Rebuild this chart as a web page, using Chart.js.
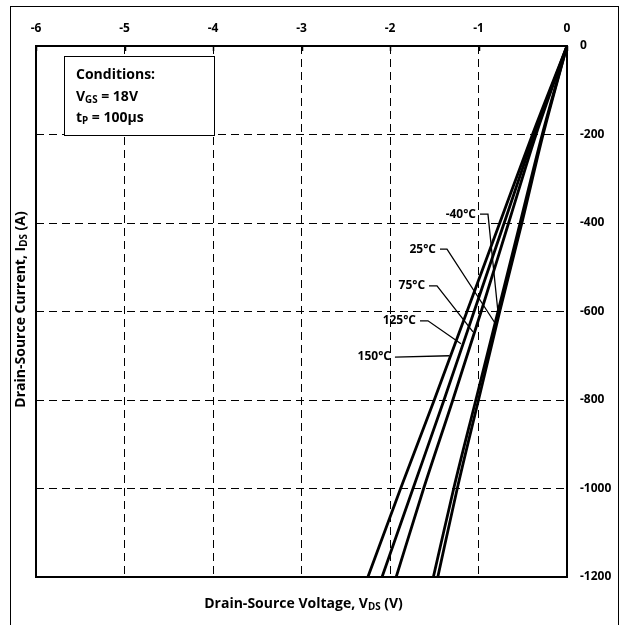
<!DOCTYPE html>
<html>
<head>
<meta charset="utf-8">
<script src="https://cdn.jsdelivr.net/npm/chart.js@4.4.0/dist/chart.umd.min.js"></script>
<style>
  html, body { margin: 0; padding: 0; background: #fff; }
  #wrap { position: relative; width: 621px; height: 625px; }
</style>
</head>
<body>
<div id="wrap"><canvas id="ivChart" width="621" height="625"></canvas></div>
<script>
// current levels (A) and drain-source voltage (V) read at each level
const currentA = [0, -200, -400, -600, -800, -1000, -1200];
const v150 = [0, -0.39, -0.76, -1.13, -1.50, -1.88, -2.25];
const v125 = [0, -0.37, -0.71, -1.05, -1.39, -1.74, -2.09];
const v75  = [0, -0.35, -0.66, -0.97, -1.29, -1.62, -1.93];
const v25  = [0, -0.28, -0.53, -0.78, -1.03, -1.28, -1.51];
const vM40 = [0, -0.27, -0.51, -0.76, -1.00, -1.24, -1.46];
const xTicks = [-6, -5, -4, -3, -2, -1, 0];
const yTicks = [0, -200, -400, -600, -800, -1000, -1200];

// temperature labels: text + leader polyline in data units
const tempLabels = [
  { text: '-40°C', pts: [[-0.983, -380], [-0.893, -380], [-0.780, -601]] },
  { text: '25°C',  pts: [[-1.435, -459], [-1.356, -459], [-0.814, -626]] },
  { text: '75°C',  pts: [[-1.559, -542], [-1.469, -542], [-1.062, -646]] },
  { text: '125°C', pts: [[-1.661, -621], [-1.571, -621], [-1.198, -673]] },
  { text: '150°C', pts: [[-1.944, -703], [-1.330, -700]] }
];

const FONT = '"Open Sans", "Noto Sans", sans-serif';

function toPts(v) { return currentA.map((a, i) => ({ x: v[i], y: a })); }
function mkSet(label, v) {
  return { label: label, data: toPts(v), borderColor: '#000', borderWidth: 2.8,
    pointRadius: 0, tension: 0.3, cubicInterpolationMode: 'monotone', fill: false, showLine: true };
}

// text with subscripts on canvas
function richWidth(ctx, parts, size) {
  let w = 0;
  parts.forEach(p => {
    ctx.font = 'bold ' + (p.sub ? size * 0.7 : size) + 'px ' + FONT;
    w += ctx.measureText(p.t).width;
  });
  return w;
}
function drawRich(ctx, parts, x, y, size) {
  let cx = x;
  parts.forEach(p => {
    ctx.font = 'bold ' + (p.sub ? size * 0.7 : size) + 'px ' + FONT;
    ctx.fillText(p.t, cx, p.sub ? y + size * 0.22 : y);
    cx += ctx.measureText(p.t).width;
  });
}

const extras = {
  id: 'extras',
  afterDraw(chart) {
    const ctx = chart.ctx, a = chart.chartArea;
    const xs = chart.scales.x, ys = chart.scales.y;
    ctx.save();
    // outer frame
    ctx.strokeStyle = '#000'; ctx.lineWidth = 1;
    ctx.strokeRect(10.5, 6.5, 608, 640);
    // plot frame
    ctx.lineWidth = 2;
    ctx.strokeRect(a.left, a.top, a.right - a.left, a.bottom - a.top);
    // small solid ticks under top border
    ctx.lineWidth = 1.5;
    xTicks.forEach(t => {
      const px = Math.round(xs.getPixelForValue(t)) + 0.5;
      ctx.beginPath(); ctx.moveTo(px, a.top); ctx.lineTo(px, a.top + 5); ctx.stroke();
    });
    // conditions box
    ctx.fillStyle = '#fff';
    ctx.fillRect(64, 56, 150, 79);
    ctx.lineWidth = 1; ctx.strokeStyle = '#000';
    ctx.strokeRect(64.5, 56.5, 150, 79);
    ctx.fillStyle = '#000'; ctx.textBaseline = 'middle'; ctx.textAlign = 'left';
    drawRich(ctx, [{ t: 'Conditions:' }], 76, 75, 14);
    drawRich(ctx, [{ t: 'V' }, { t: 'GS', sub: true }, { t: ' = 18V' }], 76, 97, 14);
    drawRich(ctx, [{ t: 't' }, { t: 'P', sub: true }, { t: ' = 100µs' }], 76, 118, 14);
    // temperature labels
    ctx.lineWidth = 1.3;
    tempLabels.forEach(l => {
      const p = l.pts.map(q => [xs.getPixelForValue(q[0]), ys.getPixelForValue(q[1])]);
      ctx.beginPath(); ctx.moveTo(p[0][0], p[0][1]);
      for (let i = 1; i < p.length; i++) ctx.lineTo(p[i][0], p[i][1]);
      ctx.stroke();
      ctx.font = 'bold 12px ' + FONT; ctx.textAlign = 'right';
      ctx.fillText(l.text, p[0][0] - 4, p[0][1]);
    });
    ctx.textAlign = 'left';
    // x axis title
    const xt = [{ t: 'Drain-Source Voltage, V' }, { t: 'DS', sub: true }, { t: ' (V)' }];
    const xw = richWidth(ctx, xt, 14);
    drawRich(ctx, xt, (a.left + a.right) / 2 - xw / 2 + 2, 604, 14);
    // y axis title
    const yt = [{ t: 'Drain-Source Current, I' }, { t: 'DS', sub: true }, { t: ' (A)' }];
    const yw = richWidth(ctx, yt, 14);
    ctx.translate(21, (a.top + a.bottom) / 2 - 2);
    ctx.rotate(-Math.PI / 2);
    drawRich(ctx, yt, -yw / 2, 0, 14);
    ctx.restore();
  }
};

new Chart(document.getElementById('ivChart').getContext('2d'), {
  type: 'scatter',
  data: {
    datasets: [
      mkSet('150°C', v150), mkSet('125°C', v125), mkSet('75°C', v75),
      mkSet('25°C', v25), mkSet('-40°C', vM40)
    ]
  },
  options: {
    responsive: false,
    animation: false,
    layout: { padding: { left: 36, right: 0, top: 0, bottom: 48 } },
    plugins: { legend: { display: false }, tooltip: { enabled: false } },
    scales: {
      x: {
        type: 'linear', position: 'top', min: -6, max: 0,
        afterFit: s => { s.height = 46; },
        afterBuildTicks: s => { s.ticks = xTicks.map(v => ({ value: v })); },
        ticks: { color: '#000', padding: 10, font: { family: FONT, weight: 'bold', size: 12 },
          callback: v => String(v) },
        grid: { color: '#000', lineWidth: 1, drawTicks: false },
        border: { display: false, dash: [8, 5] }
      },
      y: {
        type: 'linear', position: 'right', min: -1200, max: 0,
        afterFit: s => { s.width = 54; },
        afterBuildTicks: s => { s.ticks = yTicks.map(v => ({ value: v })); },
        ticks: { color: '#000', padding: 13, font: { family: FONT, weight: 'bold', size: 12 },
          callback: v => String(v) },
        grid: { color: '#000', lineWidth: 1, drawTicks: false },
        border: { display: false, dash: [8, 5] }
      }
    }
  },
  plugins: [extras]
});
</script>
</body>
</html>
